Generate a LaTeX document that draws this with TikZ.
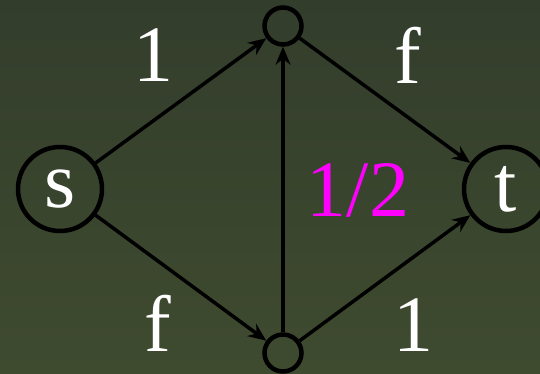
\documentclass[tikz,border=0pt]{standalone}
\usepackage{fontspec}
\setmainfont{Liberation Serif}
\usetikzlibrary{arrows.meta}
\definecolor{bgtop}{RGB}{51,61,44}
\definecolor{bgbot}{RGB}{63,75,47}
\definecolor{mag}{RGB}{255,0,255}
\begin{document}
\begin{tikzpicture}[x=1pt,y=1pt,
  bignode/.style={circle,draw=black,line width=4.5pt,minimum size=84pt,inner sep=0pt,text=white,font=\fontsize{80}{80}\selectfont},
  smallnode/.style={circle,draw=black,line width=4.5pt,minimum size=37pt,inner sep=0pt},
  edge/.style={draw=black,line width=3.5pt,-{Stealth[length=18pt,width=15pt,inset=6pt]}},
  lbl/.style={text=white,font=\fontsize{80}{80}\selectfont,inner sep=0pt}]
\useasboundingbox (0,0) rectangle (540,374);
\shade[top color=bgtop,bottom color=bgbot] (0,0) rectangle (540,374);
\node[bignode] (s) at (60,185) {s};
\node[bignode] (t) at (506,185) {t};
\node[smallnode] (top) at (283,348) {};
\node[smallnode] (bot) at (283,21) {};
\draw[edge] (s) -- (top);
\draw[edge] (s) -- (bot);
\draw[edge] (bot) -- (top);
\draw[edge] (top) -- (t);
\draw[edge] (bot) -- (t);
\node[lbl] (l1) at (153,319) {1};
\node[lbl] (l2) at (408,319) {f};
\node[lbl] (l3) at (158,51) {f};
\node[lbl] (l4) at (413,49) {1};
\node[lbl,text=mag] (l5) at (358,184) {1/2};
\end{tikzpicture}
\end{document}
